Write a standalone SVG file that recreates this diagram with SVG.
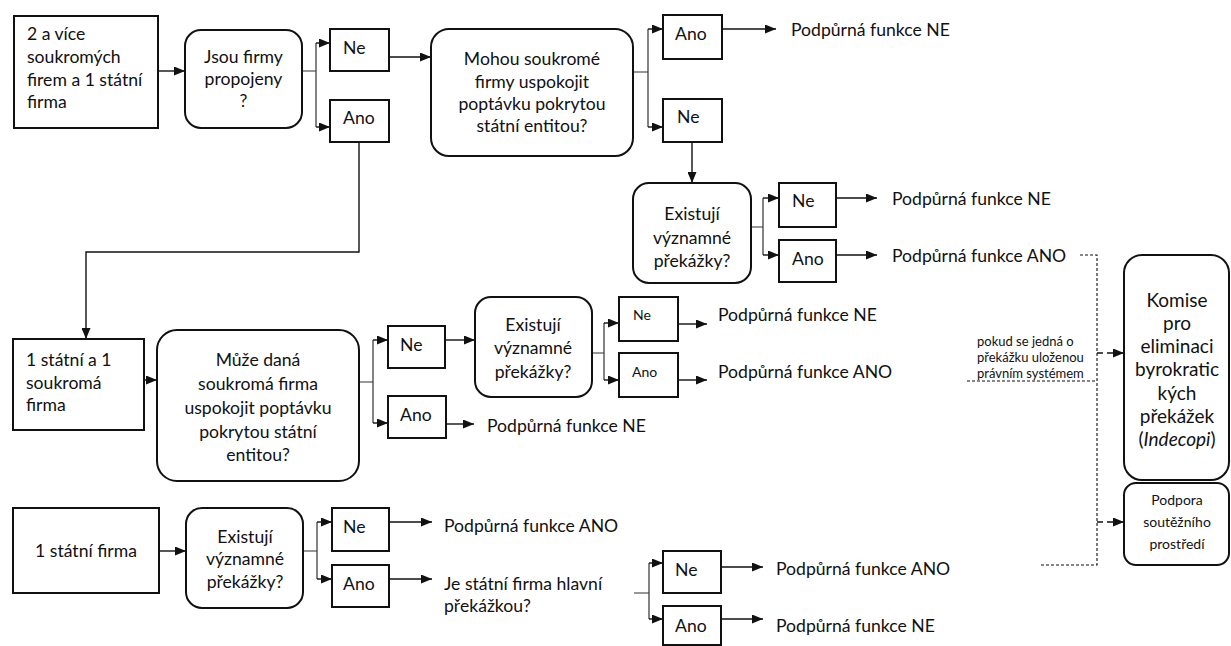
<svg xmlns="http://www.w3.org/2000/svg" width="1231" height="646" viewBox="0 0 1231 646">
<style>
text{font-family:Lato,"Liberation Sans",sans-serif;font-size:17.6px;fill:#111}
.c{text-anchor:middle}
.s{font-size:14px}
.xs{font-size:13px}
.k{font-size:19px}
.box{fill:#fff;stroke:#111;stroke-width:2}
.ln{fill:none;stroke:#111;stroke-width:1.4}
.br{fill:none;stroke:#333;stroke-width:1.2}
.dash{fill:none;stroke:#111;stroke-width:1.1;stroke-dasharray:3 2}
.darr{fill:none;stroke:#111;stroke-width:1.5;stroke-dasharray:6 4}
</style>
<defs>
<marker id="ah" markerUnits="userSpaceOnUse" markerWidth="11" markerHeight="9" refX="11" refY="4.5" orient="auto"><path d="M0,0 L11,4.5 L0,9 z" fill="#111"/></marker>
</defs>
<rect width="1231" height="646" fill="#fff"/>

<g id="connectors">
<path class="ln" d="M158,71 H185" marker-end="url(#ah)"/>
<path class="br" d="M302,71 H316 M316,43 V127"/>
<path class="ln" d="M316,43 H330" marker-end="url(#ah)"/>
<path class="ln" d="M316,127 H330" marker-end="url(#ah)"/>
<path class="ln" d="M389,57 H431" marker-end="url(#ah)"/>
<path class="ln" d="M359,142 V252 H86 V339" marker-end="url(#ah)"/>
<path class="br" d="M633,72 H648 M648,29 V127"/>
<path class="ln" d="M648,29 H663" marker-end="url(#ah)"/>
<path class="ln" d="M648,127 H663" marker-end="url(#ah)"/>
<path class="ln" d="M722,29 H776" marker-end="url(#ah)"/>
<path class="ln" d="M692,142 V183" marker-end="url(#ah)"/>
<path class="br" d="M751,227 H763 M763,198 V255"/>
<path class="ln" d="M763,198 H779" marker-end="url(#ah)"/>
<path class="ln" d="M763,255 H779" marker-end="url(#ah)"/>
<path class="ln" d="M836,198 H877" marker-end="url(#ah)"/>
<path class="ln" d="M836,255 H877" marker-end="url(#ah)"/>
<path class="ln" d="M128,380 H157" marker-end="url(#ah)"/>
<path class="br" d="M359,382 H373 M373,340 V423"/>
<path class="ln" d="M373,340 H388" marker-end="url(#ah)"/>
<path class="ln" d="M373,423 H388" marker-end="url(#ah)"/>
<path class="ln" d="M445,340 H475" marker-end="url(#ah)"/>
<path class="ln" d="M446,424 H474" marker-end="url(#ah)"/>
<path class="br" d="M592,353 H604 M604,323 V380"/>
<path class="ln" d="M604,323 H619" marker-end="url(#ah)"/>
<path class="ln" d="M604,380 H619" marker-end="url(#ah)"/>
<path class="ln" d="M678,324 H707" marker-end="url(#ah)"/>
<path class="ln" d="M678,380 H707" marker-end="url(#ah)"/>
<path class="ln" d="M159,551 H186" marker-end="url(#ah)"/>
<path class="br" d="M303,551 H317 M317,522 V579"/>
<path class="ln" d="M317,522 H332" marker-end="url(#ah)"/>
<path class="ln" d="M317,579 H332" marker-end="url(#ah)"/>
<path class="ln" d="M389,522 H432" marker-end="url(#ah)"/>
<path class="ln" d="M389,579 H432" marker-end="url(#ah)"/>
<path class="br" d="M634,593 H649 M649,563 V619"/>
<path class="ln" d="M649,563 H663" marker-end="url(#ah)"/>
<path class="ln" d="M649,619 H663" marker-end="url(#ah)"/>
<path class="ln" d="M721,567 H763" marker-end="url(#ah)"/>
<path class="ln" d="M721,619 H763" marker-end="url(#ah)"/>
<path class="dash" d="M1080,255 H1097 V565 H1040"/>
<path class="dash" d="M967,381 H1097"/>
<path class="darr" d="M1097,353 H1124" marker-end="url(#ah)"/>
<path class="darr" d="M1097,522 H1124" marker-end="url(#ah)"/>
</g>

<g id="n-start1"><rect class="box" x="14" y="16" width="144" height="112"/>
<text x="27" y="40">2 a více</text><text x="27" y="63">soukromých</text><text x="27" y="86">firem a 1 státní</text><text x="27" y="108">firma</text></g>
<g id="n-propojeny"><rect class="box" x="185" y="30" width="117" height="98" rx="16"/>
<text class="c" x="243.5" y="63">Jsou firmy</text><text class="c" x="243.5" y="85">propojeny</text><text class="c" x="243.5" y="107">?</text></g>
<g id="n-ne1"><rect class="box" x="330" y="29" width="59" height="42"/><text x="343" y="54">Ne</text></g>
<g id="n-ano1"><rect class="box" x="330" y="100" width="59" height="42"/><text x="343" y="124">Ano</text></g>
<g id="n-mohou"><rect class="box" x="431" y="29" width="202" height="127" rx="18"/>
<text class="c" x="532" y="65">Mohou soukromé</text><text class="c" x="532" y="88">firmy uspokojit</text><text class="c" x="532" y="110">poptávku pokrytou</text><text class="c" x="532" y="132">státní entitou?</text></g>
<g id="n-ano2"><rect class="box" x="663" y="15" width="59" height="44"/><text x="675" y="40">Ano</text></g>
<g id="n-ne2"><rect class="box" x="663" y="99" width="59" height="43"/><text x="677" y="123">Ne</text></g>
<g id="r-top1"><text x="791" y="36">Podpůrná funkce NE</text></g>
<g id="n-exist1"><rect class="box" x="633" y="183" width="118" height="100" rx="16"/>
<text class="c" x="692" y="220">Existují</text><text class="c" x="692" y="244">významné</text><text class="c" x="692" y="267">překážky?</text></g>
<g id="n-ne3"><rect class="box" x="779" y="183" width="57" height="44"/><text x="792" y="207">Ne</text></g>
<g id="n-ano3"><rect class="box" x="779" y="240" width="57" height="42"/><text x="792" y="265">Ano</text></g>
<g id="r-top2"><text x="892" y="205">Podpůrná funkce NE</text></g>
<g id="r-top3"><text x="892" y="262">Podpůrná funkce ANO</text></g>

<g id="n-start2"><rect class="box" x="13" y="339" width="131" height="91"/>
<text x="26" y="366">1 státní a 1</text><text x="26" y="389">soukromá</text><text x="26" y="411">firma</text></g>
<g id="n-muze"><rect class="box" x="157" y="330" width="202" height="151" rx="20"/>
<text class="c" x="258" y="366">Může daná</text><text class="c" x="258" y="390">soukromá firma</text><text class="c" x="258" y="414">uspokojit poptávku</text><text class="c" x="258" y="438">pokrytou státní</text><text class="c" x="258" y="461">entitou?</text></g>
<g id="n-ne4"><rect class="box" x="388" y="326" width="57" height="42"/><text x="400" y="351">Ne</text></g>
<g id="n-ano4"><rect class="box" x="388" y="396" width="58" height="42"/><text x="400" y="421">Ano</text></g>
<g id="r-mid1"><text x="487" y="432">Podpůrná funkce NE</text></g>
<g id="n-exist2"><rect class="box" x="475" y="297" width="117" height="100" rx="16"/>
<text class="c" x="533" y="331">Existují</text><text class="c" x="533" y="354">významné</text><text class="c" x="533" y="378">překážky?</text></g>
<g id="n-ne5"><rect class="box" x="619" y="297" width="59" height="44"/><text class="s" x="633" y="320">Ne</text></g>
<g id="n-ano5"><rect class="box" x="619" y="353" width="59" height="44"/><text class="s" x="632" y="377">Ano</text></g>
<g id="r-mid2"><text x="718" y="321">Podpůrná funkce NE</text></g>
<g id="r-mid3"><text x="718" y="378">Podpůrná funkce ANO</text></g>

<g id="n-start3"><rect class="box" x="13" y="508" width="146" height="85"/>
<text class="c" x="86" y="557">1 státní firma</text></g>
<g id="n-exist3"><rect class="box" x="186" y="508" width="117" height="100" rx="16"/>
<text class="c" x="245" y="543">Existují</text><text class="c" x="245" y="565">významné</text><text class="c" x="245" y="588">překážky?</text></g>
<g id="n-ne6"><rect class="box" x="332" y="508" width="57" height="43"/><text x="343" y="533">Ne</text></g>
<g id="n-ano6"><rect class="box" x="332" y="565" width="57" height="42"/><text x="343" y="590">Ano</text></g>
<g id="r-bot1"><text x="444" y="532">Podpůrná funkce ANO</text></g>
<g id="r-bot2"><text x="444" y="590">Je státní firma hlavní</text><text x="444" y="612">překážkou?</text></g>
<g id="n-ne7"><rect class="box" x="663" y="551" width="58" height="42"/><text x="675" y="576">Ne</text></g>
<g id="n-ano7"><rect class="box" x="663" y="606" width="58" height="39"/><text x="675" y="632">Ano</text></g>
<g id="r-bot3"><text x="776" y="575">Podpůrná funkce ANO</text></g>
<g id="r-bot4"><text x="776" y="632">Podpůrná funkce NE</text></g>

<g id="note"><text class="xs" x="977" y="346">pokud se jedná o</text><text class="xs" x="977" y="362">překážku uloženou</text><text class="xs" x="977" y="378">právním systémem</text></g>
<g id="n-komise"><rect class="box" x="1124" y="255" width="105" height="225" rx="18"/>
<text class="c k" x="1177" y="307">Komise</text><text class="c k" x="1177" y="330">pro</text><text class="c k" x="1177" y="353">eliminaci</text><text class="c k" x="1177" y="376">byrokratic</text><text class="c k" x="1177" y="400">kých</text><text class="c k" x="1177" y="423">překážek</text><text class="c k" x="1177" y="446">(<tspan font-style="italic">Indecopi</tspan>)</text></g>
<g id="n-podpora"><rect class="box" x="1124" y="483" width="105" height="82" rx="12"/>
<text class="c s" x="1177" y="505">Podpora</text><text class="c s" x="1177" y="527">soutěžního</text><text class="c s" x="1177" y="549">prostředí</text></g>
</svg>
